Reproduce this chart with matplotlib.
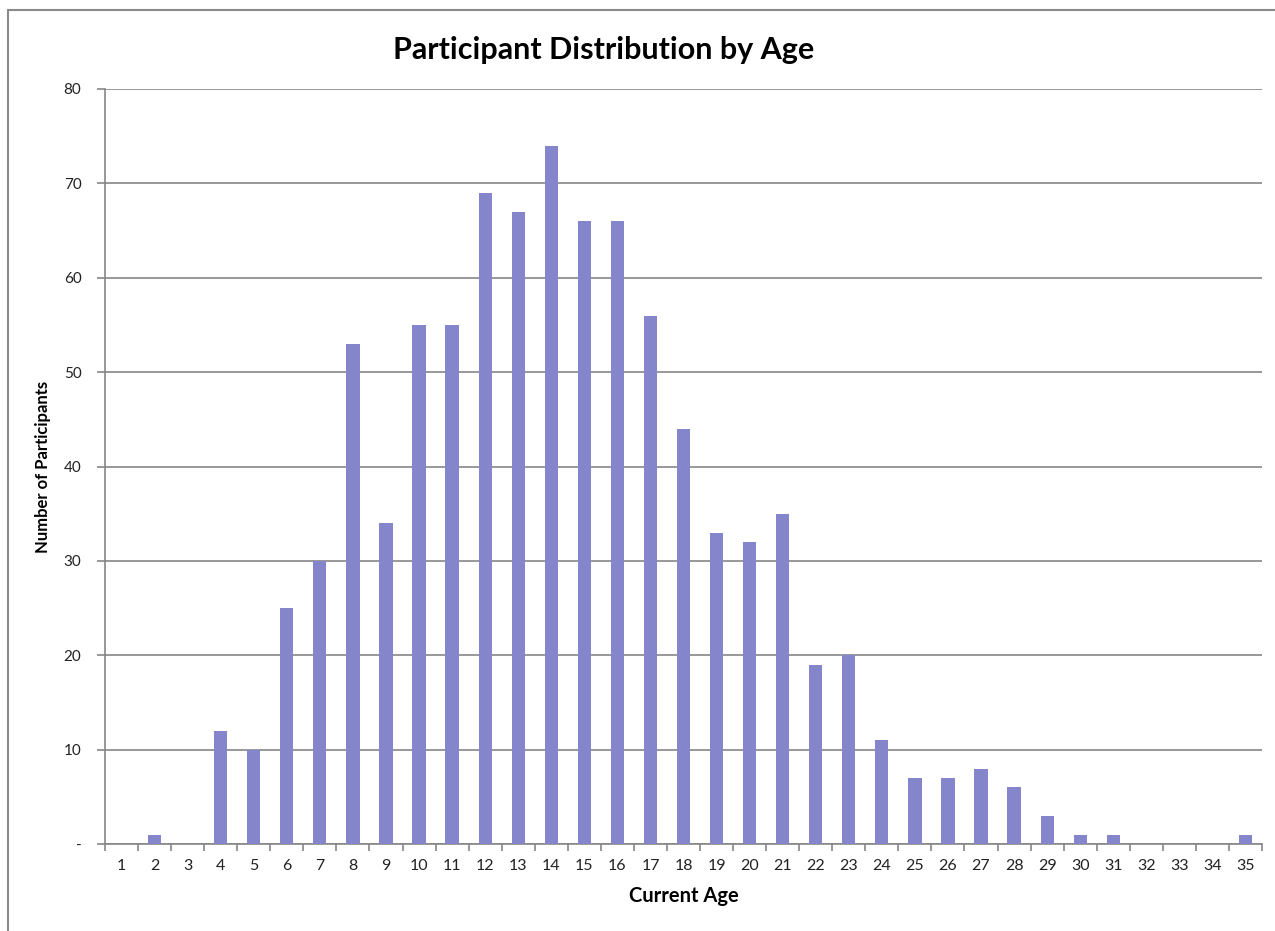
import numpy as np
import matplotlib.pyplot as plt
from matplotlib.ticker import FuncFormatter, FixedLocator
from matplotlib.patches import Rectangle

ages = list(range(1, 36))
participants = [0, 1, 0, 12, 10, 25, 30, 53, 34, 55, 55, 69, 67, 74, 66, 66, 56, 44,
                33, 32, 35, 19, 20, 11, 7, 7, 8, 6, 3, 1, 1, 0, 0, 0, 1]
y_ticks = [0, 10, 20, 30, 40, 50, 60, 70, 80]

plt.rcParams['font.family'] = ['Lato', 'DejaVu Sans']
grey = '#868686'

fig = plt.figure(figsize=(12.75, 9.31), dpi=100)
ax = fig.add_axes([105 / 1275, 1 - 844 / 931, 1157 / 1275, 755 / 931])

x = np.arange(len(ages))
ax.bar(x, participants, width=0.4, color='#8585CC', zorder=3)

ax.set_xlim(-0.5, len(ages) - 0.5)
ax.set_ylim(0, 80)
ax.set_yticks(y_ticks)
ax.yaxis.set_major_formatter(FuncFormatter(lambda v, p: '-' if v == 0 else f'{v:.0f}'))
ax.set_xticks(x)
ax.set_xticklabels([str(a) for a in ages])
ax.xaxis.set_minor_locator(FixedLocator(np.arange(-0.5, len(ages), 1.0)))
ax.tick_params(axis='x', which='major', length=0, pad=11, labelsize=11.5, labelcolor='#222222')
ax.tick_params(axis='x', which='minor', length=5, width=1.2, color=grey)
ax.tick_params(axis='y', length=6, width=1.2, color=grey, pad=11, labelsize=11, labelcolor='#222222')

ax.grid(axis='y', color=grey, linewidth=1.2, zorder=0)
for side in ['top', 'right']:
    ax.spines[side].set_visible(False)
for side in ['left', 'bottom']:
    ax.spines[side].set_color(grey)
    ax.spines[side].set_linewidth(1.2)

ax.set_xlabel('Current Age', fontsize=14.5, fontweight='bold', labelpad=9)
ax.set_ylabel('Number of Participants', fontsize=12, fontweight='bold', labelpad=9)
fig.text(604 / 1275, 1 - 50 / 931, 'Participant Distribution by Age', ha='center', va='center',
         fontsize=22, fontweight='bold')

# chart frame
fig.patches.append(Rectangle((8 / 1275, -0.1), 1.2, 1 - 10 / 931 + 0.1, transform=fig.transFigure,
                             fill=False, edgecolor='#8a8a8a', linewidth=1.5))

fig.savefig('out.png', dpi=100)
